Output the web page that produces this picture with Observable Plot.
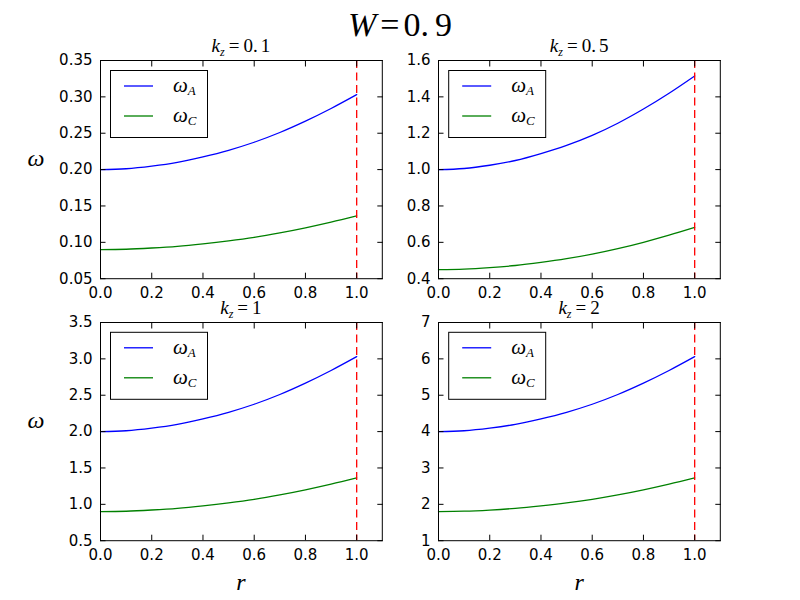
<!DOCTYPE html>
<html>
<head>
<meta charset="utf-8">
<script src="https://cdn.jsdelivr.net/npm/d3@7"></script>
<script src="https://cdn.jsdelivr.net/npm/@observablehq/plot@0.6"></script>
<style>
  body { margin: 0; background: #fff; }
  #fig { position: relative; width: 800px; height: 600px; background: #fff; overflow: hidden; }
  #ov { position: absolute; left: 0; top: 0; }
</style>
</head>
<body>
<div id="fig"></div>
<script>
// ---------- data ----------
const r = [0.0, 0.1, 0.2, 0.3, 0.4, 0.5, 0.6, 0.7, 0.8, 0.9, 1.0];

const kz01_omegaA = [0.200, 0.2012, 0.2048, 0.210, 0.2176, 0.2266, 0.2376, 0.251, 0.2666, 0.284, 0.303];
const kz01_omegaC = [0.0900, 0.0905, 0.0922, 0.0945, 0.0979, 0.1020, 0.1069, 0.1130, 0.1200, 0.1278, 0.1364];

const kz05_omegaA = [1.000, 1.006, 1.024, 1.050, 1.088, 1.133, 1.188, 1.255, 1.333, 1.420, 1.515];
const kz05_omegaC = [0.450, 0.4527, 0.4608, 0.4725, 0.4896, 0.5099, 0.5346, 0.5648, 0.5999, 0.639, 0.6818];

const kz1_omegaA = [2.000, 2.012, 2.048, 2.100, 2.176, 2.266, 2.376, 2.510, 2.666, 2.840, 3.030];
const kz1_omegaC = [0.900, 0.905, 0.922, 0.945, 0.979, 1.020, 1.069, 1.130, 1.200, 1.278, 1.364];

const kz2_omegaA = [4.000, 4.024, 4.096, 4.200, 4.352, 4.532, 4.752, 5.020, 5.332, 5.680, 6.060];
const kz2_omegaC = [1.800, 1.811, 1.843, 1.890, 1.958, 2.039, 2.138, 2.259, 2.399, 2.556, 2.727];

const boundaryR = [1.0];

const xTicks = [0.0, 0.2, 0.4, 0.6, 0.8, 1.0];
const yTicks01 = [0.05, 0.10, 0.15, 0.20, 0.25, 0.30, 0.35];
const yTicks05 = [0.4, 0.6, 0.8, 1.0, 1.2, 1.4, 1.6];
const yTicks1 = [0.5, 1.0, 1.5, 2.0, 2.5, 3.0, 3.5];
const yTicks2 = [1, 2, 3, 4, 5, 6, 7];

const kzLabels = ["0.1", "0.5", "1", "2"];
const mainTitleW = "0.9";
const seriesLabels = ["A", "C"];

// ---------- layout ----------
const AW = 281.8, AH = 218.2;
const panels = [
  {kz: kzLabels[0], A: kz01_omegaA, C: kz01_omegaC, yTicks: yTicks01, fmt: d3.format(".2f"), L: 100, T: 60, ylab: true, xlab: false},
  {kz: kzLabels[1], A: kz05_omegaA, C: kz05_omegaC, yTicks: yTicks05, fmt: d3.format(".1f"), L: 438.2, T: 60, ylab: false, xlab: false},
  {kz: kzLabels[2], A: kz1_omegaA, C: kz1_omegaC, yTicks: yTicks1, fmt: d3.format(".1f"), L: 100, T: 321.8, ylab: true, xlab: true},
  {kz: kzLabels[3], A: kz2_omegaA, C: kz2_omegaC, yTicks: yTicks2, fmt: d3.format("d"), L: 438.2, T: 321.8, ylab: false, xlab: true}
];

const fig = document.getElementById("fig");
const TS = 5.5;

panels.forEach(p => {
  const data = r.map((v, i) => ({r: v, A: p.A[i], C: p.C[i]}));
  const ydom = [p.yTicks[0], p.yTicks[p.yTicks.length - 1]];
  const cellW = 400, cellH = 300;
  const chart = Plot.plot({
    width: cellW, height: cellH,
    marginLeft: 100, marginTop: 60,
    marginRight: cellW - 100 - AW, marginBottom: cellH - 60 - AH,
    style: {background: "transparent", overflow: "visible", fontFamily: "DejaVu Sans", fontSize: "15px", color: "black"},
    x: {domain: [0, 1.1]},
    y: {domain: ydom},
    marks: [
      Plot.line(data, {x: "r", y: "A", stroke: "#0000ff", strokeWidth: 1.3, curve: "catmull-rom"}),
      Plot.line(data, {x: "r", y: "C", stroke: "#008000", strokeWidth: 1.3, curve: "catmull-rom"}),
      Plot.ruleX(boundaryR, {stroke: "#ff0000", strokeWidth: 1.3, strokeDasharray: "8,4.5"}),
      Plot.axisX({ticks: xTicks, anchor: "bottom", tickSize: 0, tickPadding: 9, tickFormat: d3.format(".1f"), label: null}),
      Plot.axisX({ticks: xTicks, anchor: "bottom", tickSize: TS, dy: -TS, tickFormat: () => "", label: null}),
      Plot.axisX({ticks: xTicks, anchor: "top", tickSize: TS, dy: TS, tickFormat: () => "", label: null}),
      Plot.axisY({ticks: p.yTicks, anchor: "left", tickSize: 0, tickPadding: 8, tickFormat: p.fmt, label: null}),
      Plot.axisY({ticks: p.yTicks, anchor: "left", tickSize: TS, dx: TS, tickFormat: () => "", label: null}),
      Plot.axisY({ticks: p.yTicks, anchor: "right", tickSize: TS, dx: -TS, tickFormat: () => "", label: null}),
      Plot.frame({stroke: "black", strokeWidth: 1})
    ]
  });
  chart.style.position = "absolute";
  chart.style.left = (p.L - 100) + "px";
  chart.style.top = (p.T - 60) + "px";
  fig.appendChild(chart);
});

// ---------- text overlay (titles, labels, legends) ----------
const svg = d3.select(fig).append("svg").attr("id", "ov").attr("width", 800).attr("height", 600);
const serif = "Liberation Serif, DejaVu Serif, serif";

// main title
const mt = svg.append("text").attr("x", 400).attr("y", 36).attr("text-anchor", "middle")
  .attr("font-family", serif).attr("font-size", 34).attr("fill", "black");
mt.append("tspan").attr("font-style", "italic").text("W");
mt.append("tspan").attr("dx", 4).text("=");
mt.append("tspan").attr("dx", 4).text(mainTitleW.split(".")[0] + ".");
mt.append("tspan").attr("dx", 6).text(mainTitleW.split(".")[1]);

panels.forEach(p => {
  const cx = p.L + AW / 2;
  // subplot title k_z = ...
  const t = svg.append("text").attr("x", cx).attr("y", p.T - 8).attr("text-anchor", "middle")
    .attr("font-family", serif).attr("font-size", 19).attr("fill", "black");
  t.append("tspan").attr("font-style", "italic").text("k");
  t.append("tspan").attr("font-style", "italic").attr("font-size", 12).attr("dy", 4).text("z");
  t.append("tspan").attr("dy", -4).attr("dx", 4).text("=");
  const parts = p.kz.split(".");
  if (parts.length > 1) {
    t.append("tspan").attr("dx", 4).text(parts[0] + ".");
    t.append("tspan").attr("dx", 3).text(parts[1]);
  } else {
    t.append("tspan").attr("dx", 4).text(parts[0]);
  }

  // legend
  const lx = p.L + 10, ly = p.T + 10;
  svg.append("rect").attr("x", lx + 0.5).attr("y", ly + 0.5).attr("width", 97).attr("height", 67)
    .attr("fill", "white").attr("stroke", "black").attr("stroke-width", 1);
  const cols = ["#0000ff", "#008000"];
  seriesLabels.forEach((s, i) => {
    const yy = ly + 16 + i * 30;
    svg.append("line").attr("x1", lx + 14).attr("x2", lx + 43).attr("y1", yy).attr("y2", yy)
      .attr("stroke", cols[i]).attr("stroke-width", 1.3);
    const lt = svg.append("text").attr("x", lx + 63).attr("y", yy + 6)
      .attr("font-family", serif).attr("font-size", 21).attr("font-style", "italic").attr("fill", "black");
    lt.append("tspan").text("ω");
    lt.append("tspan").attr("font-size", 13).attr("dy", 3).text(s);
  });

  if (p.ylab) {
    svg.append("text").attr("x", 36).attr("y", p.T + AH / 2 - 3).attr("text-anchor", "middle")
      .attr("font-family", serif).attr("font-size", 24).attr("font-style", "italic").attr("fill", "black").text("ω");
  }
  if (p.xlab) {
    svg.append("text").attr("x", cx).attr("y", 590).attr("text-anchor", "middle")
      .attr("font-family", serif).attr("font-size", 24).attr("font-style", "italic").attr("fill", "black").text("r");
  }
});
</script>
</body>
</html>
